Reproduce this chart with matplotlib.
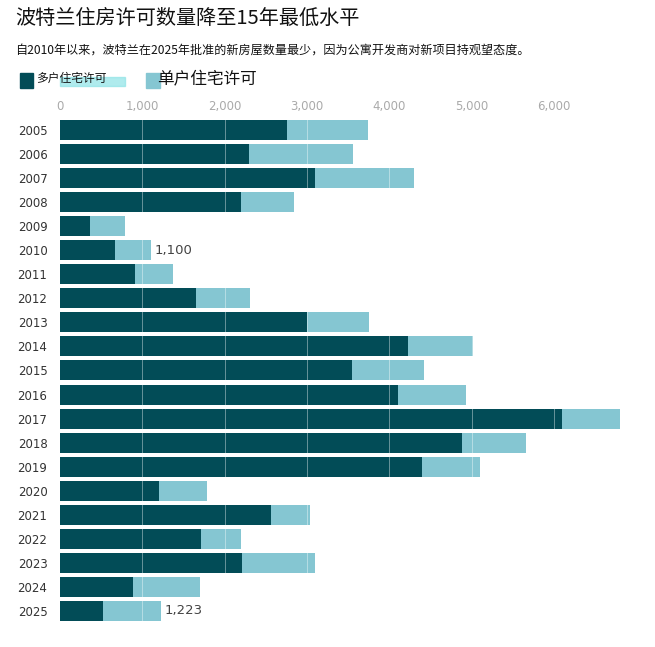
import matplotlib
matplotlib.use('Agg')
import matplotlib.pyplot as plt
from matplotlib.patches import Rectangle

plt.rcParams['font.family'] = ['Noto Sans CJK SC', 'DejaVu Sans']

years = ['2005', '2006', '2007', '2008', '2009', '2010', '2011', '2012', '2013', '2014',
         '2015', '2016', '2017', '2018', '2019', '2020', '2021', '2022', '2023', '2024', '2025']
multi = [2753, 2292, 3094, 2195, 361, 666, 906, 1648, 2996, 4223,
         3543, 4102, 6094, 4879, 4393, 1200, 2558, 1709, 2207, 883, 519]
total = [3737, 3555, 4296, 2839, 787, 1100, 1369, 2304, 3758, 5017,
         4418, 4936, 6798, 5656, 5098, 1782, 3033, 2195, 3094, 1697, 1223]
single = [t - m for t, m in zip(total, multi)]
ticks = [0, 1000, 2000, 3000, 4000, 5000, 6000]
labelled = {'2010': '1,100', '2025': '1,223'}

DARK = '#024c57'
LIGHT = '#85c6d2'

fig = plt.figure(figsize=(6.55, 6.47), dpi=100)
ax = fig.add_axes([0.0916, 0.0334, 0.88, 0.788])

ypos = list(range(len(years)))
ax.barh(ypos, multi, height=0.83, color=DARK, zorder=2)
ax.barh(ypos, single, left=multi, height=0.83, color=LIGHT, zorder=2)

for t in ticks[1:]:
    ax.axvline(t, color='white', lw=0.7, alpha=0.4, zorder=3)

for i, y in enumerate(years):
    if y in labelled:
        ax.text(total[i] + 50, i, labelled[y], va='center', ha='left',
                fontsize=9.5, color='#444444', family=['DejaVu Sans'])

ax.set_xlim(0, 7000)
ax.set_ylim(20.6, -0.6)
ax.set_yticks(ypos)
ax.set_yticklabels(years, fontsize=8.5, color='#333333', family=['DejaVu Sans'])
ax.set_xticks(ticks)
ax.set_xticklabels(['{:,}'.format(t) for t in ticks], fontsize=8.5, color='#aaaaaa',
                   family=['DejaVu Sans'])
ax.xaxis.tick_top()
ax.tick_params(axis='x', length=0, pad=2)
ax.tick_params(axis='y', length=0, pad=9)
for s in ax.spines.values():
    s.set_visible(False)

fig.text(0.023, 0.972, '波特兰住房许可数量降至15年最低水平', fontsize=14.5,
         color='#111111', va='center', ha='left')
fig.text(0.023, 0.923, '自2010年以来，波特兰在2025年批准的新房屋数量最少，因为公寓开发商对新项目持观望态度。',
         fontsize=8.7, color='#111111', va='center', ha='left', fontweight='medium')

# legend
fig.patches.append(Rectangle((20 / 655, 1 - 88 / 647), 13 / 655, 15 / 647,
                             transform=fig.transFigure, color=DARK))
fig.patches.append(Rectangle((60 / 655, 1 - 86 / 647), 65 / 655, 9 / 647,
                             transform=fig.transFigure, color='#8ee3e6', alpha=0.7))
fig.text(36 / 655, 1 - 78 / 647, '多户住宅许可', fontsize=8.5, color='#111111',
         va='center', ha='left')
fig.patches.append(Rectangle((146 / 655, 1 - 88 / 647), 14 / 655, 15 / 647,
                             transform=fig.transFigure, color=LIGHT))
fig.text(157 / 655, 1 - 80 / 647, '单户住宅许可', fontsize=12, color='#111111',
         va='center', ha='left')

fig.savefig('out.png', dpi=100)
